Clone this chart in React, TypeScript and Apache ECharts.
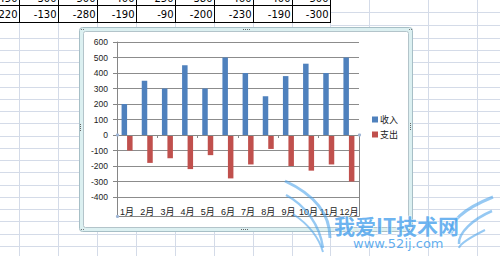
import React, { useEffect, useRef } from "react";
import * as echarts from "echarts";

const months = ["1月", "2月", "3月", "4月", "5月", "6月", "7月", "8月", "9月", "10月", "11月", "12月"];
const income = [200, 350, 300, 450, 300, 500, 400, 250, 380, 460, 400, 500];
const expense = [-100, -180, -150, -220, -130, -280, -190, -90, -200, -230, -190, -300];
const seriesNames = ["收入", "支出"];
const yMin = -400;
const yMax = 600;
const yStep = 100;
// table rows visible at top of sheet (months 4..12)
const tableIncome = income.slice(3);
const tableExpense = expense.slice(3);

const FONT = "'Liberation Sans', 'Noto Sans CJK SC', sans-serif";
const SHEET_LINE = "#d4dbe8";
const AXIS_GRAY = "#868686";

function buildGraphics(): any[] {
  const g: any[] = [];
  g.push({ type: "rect", z: -20, shape: { x: 0, y: 0, width: 500, height: 256 }, style: { fill: "#ffffff" } });
  const colX = [19.5, 58.5, 97.5, 136.5, 175.5, 214.5, 253.5, 292.5, 330.5, 369.5, 428.5, 477.5];
  colX.forEach((x) => {
    g.push({ type: "line", z: -19, shape: { x1: x, y1: 0, x2: x, y2: 256 }, style: { stroke: SHEET_LINE, lineWidth: 1 } });
  });
  for (let k = 0; k < 19; k++) {
    const y = Math.round(37.7 + 12.25 * k) + 0.5;
    g.push({ type: "line", z: -19, shape: { x1: 0, y1: y, x2: 500, y2: y }, style: { stroke: SHEET_LINE, lineWidth: 1 } });
  }
  [12.5, 25.5].forEach((y) => {
    g.push({ type: "line", z: -19, shape: { x1: 330, y1: y, x2: 500, y2: y }, style: { stroke: SHEET_LINE, lineWidth: 1 } });
  });
  const tableCols = [19.5, 58.5, 97.5, 136.5, 175.5, 214.5, 253.5, 292.5, 330.5];
  tableCols.forEach((x) => {
    g.push({ type: "line", z: -18, shape: { x1: x, y1: 0, x2: x, y2: 23 }, style: { stroke: "#000", lineWidth: 1 } });
  });
  [5.5, 22.5].forEach((y) => {
    g.push({ type: "line", z: -18, shape: { x1: 0, y1: y, x2: 330.5, y2: y }, style: { stroke: "#000", lineWidth: 1 } });
  });
  tableExpense.forEach((v, i) => {
    g.push({
      type: "text", z: -17, x: tableCols[i] - 2, y: 14.5,
      style: { text: String(v), fill: "#000", font: "10px 'DejaVu Sans', sans-serif", align: "right", verticalAlign: "middle" },
    });
  });
  tableIncome.forEach((v, i) => {
    g.push({
      type: "text", z: -17, x: tableCols[i] - 2, y: -2,
      style: { text: String(v), fill: "#000", font: "10px 'DejaVu Sans', sans-serif", align: "right", verticalAlign: "middle" },
    });
  });
  // chart object frame
  g.push({
    type: "rect", z: -15, shape: { x: 79.5, y: 27.5, width: 333, height: 204, r: 3 },
    style: { fill: "#dcf0f1", stroke: "#a7bfc6", lineWidth: 1 },
  });
  g.push({
    type: "rect", z: -14, shape: { x: 83.5, y: 31.5, width: 325, height: 196, r: 2 },
    style: { fill: "#ffffff", stroke: "#b3c4ca", lineWidth: 1 },
  });
  const dotsH = (cx: number, cy: number) => {
    for (let i = 0; i < 4; i++) g.push({ type: "rect", z: -13, shape: { x: cx - 4 + i * 2, y: cy, width: 1, height: 1 }, style: { fill: "#666" } });
  };
  const dotsV = (cx: number, cy: number) => {
    for (let i = 0; i < 4; i++) g.push({ type: "rect", z: -13, shape: { x: cx, y: cy - 4 + i * 2, width: 1, height: 1 }, style: { fill: "#666" } });
  };
  dotsH(247, 29);
  dotsH(245, 229);
  dotsV(80, 128);
  dotsV(410, 127);
  [[81, 29], [409, 29], [81, 229], [409, 229]].forEach(([x, y]) => {
    g.push({ type: "rect", z: -13, shape: { x, y, width: 1, height: 1 }, style: { fill: "#777" } });
    g.push({ type: "rect", z: -13, shape: { x: x + 2, y, width: 1, height: 1 }, style: { fill: "#777" } });
  });
  // plot area lower border lines
  g.push({ type: "polyline", z: 5, shape: { points: [[117.5, 197], [117.5, 216.5], [359.5, 216.5], [359.5, 135]] }, style: { stroke: AXIS_GRAY, lineWidth: 1, fill: null } });
  [[117.5, 135], [359.5, 135], [117.5, 216.5]].forEach(([x, y]) => {
    g.push({ type: "circle", z: 6, shape: { cx: x, cy: y, r: 1.6 }, style: { fill: "#9fb6d6" } });
  });
  // watermark wings (left, mirrored on the right)
  const sw = "rgba(80,165,235,0.6)";
  const axis = 389;
  const strokes = [
    { p: [285, 181, 315, 195, 330, 215, 330, 238], w: 3 },
    { p: [286, 195, 305, 205, 320, 225, 323, 248], w: 2.5 },
    { p: [293, 214, 305, 222, 318, 235, 323, 252], w: 2 },
  ];
  strokes.forEach(({ p, w }) => {
    g.push({ type: "bezierCurve", z: 50, shape: { x1: p[0], y1: p[1], cpx1: p[2], cpy1: p[3], cpx2: p[4], cpy2: p[5], x2: p[6], y2: p[7] }, style: { stroke: sw, lineWidth: w, fill: null } });
    const m = (x: number) => 2 * axis - x;
    g.push({ type: "bezierCurve", z: 50, shape: { x1: m(p[0]), y1: p[1] + 16, cpx1: m(p[2]), cpy1: p[3] + 14, cpx2: m(p[4]), cpy2: p[5] + 8, x2: m(p[6]) + 4, y2: p[7] - 4 }, style: { stroke: sw, lineWidth: w, fill: null } });
  });
  g.push({
    type: "text", z: 51, x: 334, y: 225,
    style: {
      text: "我爱IT技术网", fill: "rgba(70,160,236,0.8)", stroke: "rgba(255,255,255,0.8)", lineWidth: 1,
      font: "bold 21px 'Noto Sans CJK SC', sans-serif", align: "left", verticalAlign: "middle",
    },
  });
  g.push({
    type: "text", z: 51, x: 353, y: 243,
    style: { text: "www.52ij.com", fill: "rgba(70,160,236,0.85)", font: "13px 'DejaVu Sans', sans-serif", align: "left", verticalAlign: "middle" },
  });
  return g;
}

export default function App() {
  const ref = useRef<HTMLDivElement>(null);
  useEffect(() => {
    if (!ref.current) return;
    const chart = echarts.init(ref.current, null, { renderer: "svg" });
    chart.setOption({
      animation: false,
      backgroundColor: "transparent",
      textStyle: { fontFamily: FONT },
      graphic: { elements: buildGraphics() },
      grid: { left: 117, top: 42, right: 141, bottom: 59, containLabel: false },
      legend: {
        data: seriesNames,
        orient: "vertical",
        left: 372,
        top: 115,
        padding: 0,
        itemWidth: 6,
        itemHeight: 6,
        itemGap: 6,
        icon: "rect",
        textStyle: { fontSize: 9, color: "#222", fontFamily: FONT, padding: [0, 0, 0, -3] },
      },
      xAxis: [
        {
          type: "category",
          data: months,
          axisLine: { show: true, onZero: true, lineStyle: { color: AXIS_GRAY } },
          axisTick: { show: true, length: 3, lineStyle: { color: AXIS_GRAY } },
          axisLabel: { show: false },
          splitLine: { show: false },
          z: 4,
        },
        {
          type: "category",
          data: months,
          position: "bottom",
          axisLine: { show: false, onZero: false },
          axisTick: { show: false },
          axisLabel: { show: true, interval: 0, margin: 10, fontSize: 9, color: "#222", fontFamily: FONT },
          splitLine: { show: false },
        },
      ],
      yAxis: {
        type: "value",
        min: yMin,
        max: yMax,
        interval: yStep,
        axisLine: { show: true, lineStyle: { color: AXIS_GRAY } },
        axisTick: { show: true, length: 4, lineStyle: { color: AXIS_GRAY } },
        axisLabel: { margin: 9, fontSize: 8.5, color: "#222", fontFamily: FONT },
        splitLine: { show: true, lineStyle: { color: "#8c8c8c", width: 1 } },
      },
      series: [
        {
          name: seriesNames[0],
          type: "bar",
          xAxisIndex: 0,
          data: income,
          barWidth: 5.5,
          barGap: "0%",
          itemStyle: { color: "#4f81bd" },
        },
        {
          name: seriesNames[1],
          type: "bar",
          xAxisIndex: 0,
          data: expense,
          barWidth: 5.5,
          barGap: "0%",
          itemStyle: { color: "#c0504d" },
        },
      ],
    });
    return () => chart.dispose();
  }, []);
  return (
    <div
      ref={ref}
      style={{ position: "fixed", left: 0, top: 0, width: 500, height: 256, background: "#fff" }}
    />
  );
}
